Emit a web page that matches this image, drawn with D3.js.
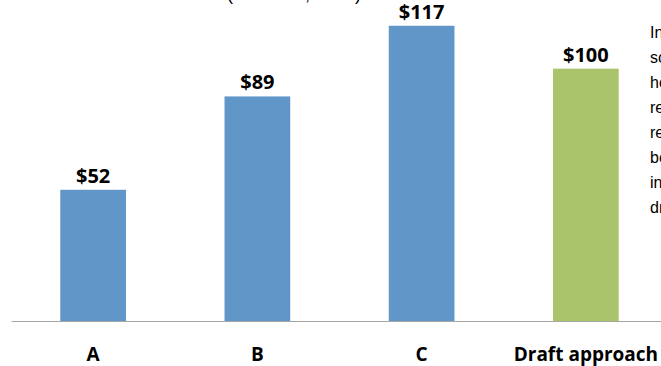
<!DOCTYPE html>
<html>
<head>
<meta charset="utf-8">
<script src="https://cdn.jsdelivr.net/npm/d3@7"></script>
<style>
  html, body { margin: 0; padding: 0; background: #fff; overflow: hidden; }
  svg { display: block; }
</style>
</head>
<body>
<svg id="chart" width="661" height="366"></svg>
<script>
// Cost per option, in dollars
const categories = ["A", "B", "C", "Draft approach"];
const values = [52, 89, 117, 100];
const valueLabels = ["$52", "$89", "$117", "$100"];
const subtitle = "(in dollars, 2013)";
const noteLines = [
  "In this",
  "scenario the",
  "household",
  "receives a",
  "reduced",
  "benefit",
  "in the",
  "draft year"
];

const svg = d3.select("#chart");
const barBlue = "#6196C8";
const barGreen = "#AAC46C";
const boldFont = "'Open Sans', Lato, sans-serif";
const plainFont = "'Liberation Sans', Arial, sans-serif";

const x = d3.scaleBand()
  .domain(categories)
  .range([11, 668])
  .paddingInner(0.6)
  .paddingOuter(0.3);

const y = d3.scaleLinear()
  .domain([0, 120])
  .range([321, 18.2]);

const data = categories.map((c, i) => ({ cat: c, value: values[i], label: valueLabels[i] }));

// heading above the plot, mostly above the top edge
svg.append("text")
  .attr("x", 294).attr("y", 0)
  .attr("text-anchor", "middle")
  .attr("font-family", plainFont)
  .attr("font-size", 18)
  .attr("fill", "#000")
  .text(subtitle);

// bars
svg.append("g").selectAll("rect")
  .data(data)
  .join("rect")
  .attr("x", d => x(d.cat))
  .attr("width", x.bandwidth())
  .attr("y", d => y(d.value))
  .attr("height", d => y(0) - y(d.value))
  .attr("fill", d => d.cat === "Draft approach" ? barGreen : barBlue);

// value labels
svg.append("g").selectAll("text")
  .data(data)
  .join("text")
  .attr("x", d => x(d.cat) + x.bandwidth() / 2)
  .attr("y", d => y(d.value) - 7)
  .attr("text-anchor", "middle")
  .attr("font-family", boldFont)
  .attr("font-weight", "bold")
  .attr("font-size", 20)
  .attr("fill", "#000")
  .text(d => d.label);

// category axis
const axis = svg.append("g")
  .attr("transform", `translate(0,${y(0)})`)
  .call(d3.axisBottom(x).tickSize(0).tickPadding(0));
axis.select(".domain").attr("stroke", "#A6A6A6").attr("stroke-width", 1);
axis.selectAll(".tick text")
  .attr("y", 40)
  .attr("dy", null)
  .attr("font-family", boldFont)
  .attr("font-weight", "bold")
  .attr("font-size", 19)
  .attr("fill", "#000");

// side note, running off the right edge
svg.append("g").selectAll("text")
  .data(noteLines)
  .join("text")
  .attr("x", 650)
  .attr("y", (d, i) => 38 + i * 25)
  .attr("font-family", plainFont)
  .attr("font-size", 16)
  .attr("fill", "#000")
  .text(d => d);
</script>
</body>
</html>
